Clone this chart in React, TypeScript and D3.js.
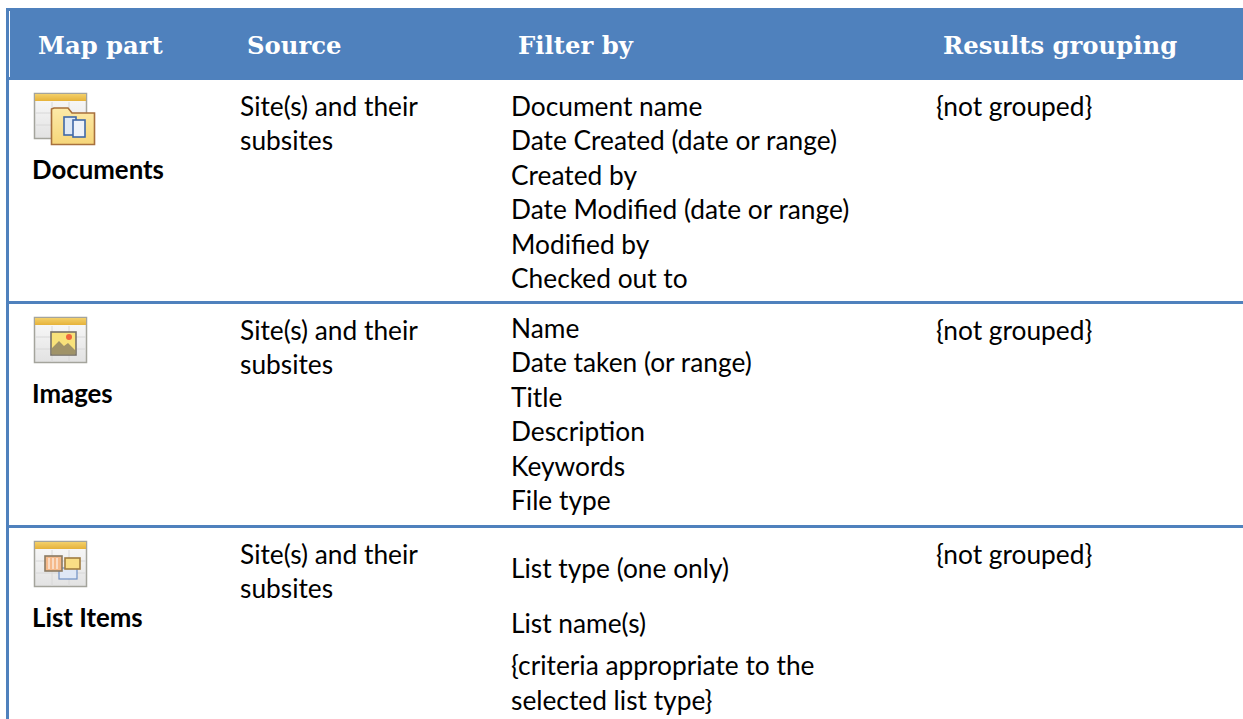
import React, { useEffect, useRef } from "react";
import * as d3 from "d3";

const headers = ["Map part", "Source", "Filter by", "Results grouping"];
const headerX = [38, 247, 518, 943];
const parts = ["Documents", "Images", "List Items"];
const sources = [["Site(s) and their", "subsites"], ["Site(s) and their", "subsites"], ["Site(s) and their", "subsites"]];
const documentFilters = ["Document name", "Date Created (date or range)", "Created by", "Date Modified (date or range)", "Modified by", "Checked out to"];
const imageFilters = ["Name", "Date taken (or range)", "Title", "Description", "Keywords", "File type"];
const listFilters = ["List type (one only)", "List name(s)", "{criteria appropriate to the", "selected list type}"];
const grouping = "{not grouped}";

const rowTops = [80, 304, 528];
const listFilterY = [569, 624, 666, 701];

const BLUE = "#4f81bd";
const BODY = "Lato, 'Open Sans', sans-serif";
const HEAD = "'DejaVu Serif', 'Liberation Serif', serif";

const App = () => {
  const ref = useRef<SVGSVGElement>(null);

  useEffect(() => {
    const svg = d3.select(ref.current);
    svg.selectAll("*").remove();

    const defs = svg.append("defs");
    const grad = defs.append("linearGradient").attr("id", "sheet").attr("x1", 0).attr("x2", 0).attr("y1", 0).attr("y2", 1);
    grad.append("stop").attr("offset", 0).attr("stop-color", "#fafafa");
    grad.append("stop").attr("offset", 1).attr("stop-color", "#e2e2e2");
    const band = defs.append("linearGradient").attr("id", "band").attr("x1", 0).attr("x2", 0).attr("y1", 0).attr("y2", 1);
    band.append("stop").attr("offset", 0).attr("stop-color", "#f3d06a");
    band.append("stop").attr("offset", 1).attr("stop-color", "#e6b23a");
    const fold = defs.append("linearGradient").attr("id", "fold").attr("x1", 0).attr("x2", 0).attr("y1", 0).attr("y2", 1);
    fold.append("stop").attr("offset", 0).attr("stop-color", "#fdeaa8");
    fold.append("stop").attr("offset", 1).attr("stop-color", "#f6d67a");
    defs.append("filter").attr("id", "soft").append("feGaussianBlur").attr("stdDeviation", 0.45);

    // header band and borders
    svg.append("rect").attr("x", 6).attr("y", 8).attr("width", 1237).attr("height", 72).attr("fill", BLUE);
    svg.append("rect").attr("x", 6).attr("y", 8).attr("width", 3).attr("height", 711).attr("fill", BLUE);
    svg.append("rect").attr("x", 9).attr("y", 11).attr("width", 1).attr("height", 66).attr("fill", "#fff");

    svg.selectAll("text.head").data(headers).enter().append("text")
      .attr("class", "head")
      .attr("x", (_, i) => headerX[i])
      .attr("y", 54)
      .attr("font-family", HEAD)
      .attr("font-weight", 700)
      .attr("font-size", 24.3)
      .attr("fill", "#fff")
      .text((d) => d);

    svg.selectAll("rect.sep").data(rowTops.slice(1)).enter().append("rect")
      .attr("class", "sep")
      .attr("x", 6).attr("y", (d) => d - 3).attr("width", 1237).attr("height", 3)
      .attr("fill", BLUE);

    const body = (x: number, y: number, s: string, bold = false) =>
      svg.append("text")
        .attr("x", x).attr("y", y)
        .attr("font-family", BODY)
        .attr("font-size", bold ? 25.8 : 26.3)
        .attr("font-weight", bold ? 700 : 400)
        .attr("fill", "#000")
        .text(s);

    const lineY = d3.scaleLinear().domain([0, 1]).range([0, 34.4]);

    parts.forEach((p, i) => {
      const top = rowTops[i];
      body(32, top + 99, p, true);
      sources[i].forEach((s, j) => body(240, top + 36 + lineY(j), s));
      body(936, top + 36, grouping);
      drawIcon(i, top + 13);
    });

    documentFilters.forEach((s, j) => body(511, rowTops[0] + 36 + lineY(j), s));
    imageFilters.forEach((s, j) => body(511, rowTops[1] + 34 + lineY(j), s));
    listFilters.forEach((s, j) => body(511, listFilterY[j] + 9, s));

    function drawIcon(kind: number, y: number) {
      const g = svg.append("g").attr("transform", `translate(34,${y})`).attr("filter", "url(#soft)");
      g.append("rect").attr("x", 0.5).attr("y", 0.5).attr("width", 52).attr("height", 45).attr("fill", "url(#sheet)").attr("stroke", "#a4a49c").attr("stroke-width", 1.5);
      g.append("rect").attr("x", 1).attr("y", 1).attr("width", 51).attr("height", 7).attr("fill", "url(#band)");
      [18, 35].forEach((x) => g.append("line").attr("x1", x).attr("x2", x).attr("y1", 9).attr("y2", 45).attr("stroke", "#d8d8d8"));
      [20, 32].forEach((ly) => g.append("line").attr("x1", 1).attr("x2", 52).attr("y1", ly).attr("y2", ly).attr("stroke", "#d8d8d8"));
      if (kind === 0) {
        g.append("path").attr("d", "M17.5 16 L17.5 51.5 L60.5 51.5 L60.5 20 L38 20 L34 15 L20 15 Z").attr("fill", "url(#fold)").attr("stroke", "#a8703c").attr("stroke-width", 1.6);
        g.append("rect").attr("x", 30).attr("y", 24).attr("width", 12).attr("height", 18).attr("fill", "#dfe9f5").attr("stroke", "#3f68a8").attr("stroke-width", 1.6);
        g.append("rect").attr("x", 39).attr("y", 27).attr("width", 12).attr("height", 17).attr("fill", "#eef3fa").attr("stroke", "#3f68a8").attr("stroke-width", 1.6);
      } else if (kind === 1) {
        g.append("rect").attr("x", 17).attr("y", 15).attr("width", 25).attr("height", 23).attr("fill", "#f8e27a").attr("stroke", "#77726a").attr("stroke-width", 1.6);
        g.append("path").attr("d", "M18 37 L18 31 L25 24 L30 29 L34 26 L41 33 L41 37 Z").attr("fill", "#a09368");
        g.append("circle").attr("cx", 35).attr("cy", 20).attr("r", 3).attr("fill", "#f0663c");
      } else {
        g.append("rect").attr("x", 25).attr("y", 27).attr("width", 18).attr("height", 11).attr("fill", "#dfe8f5").attr("stroke", "#6f8fc4").attr("stroke-width", 1.2);
        g.append("rect").attr("x", 11).attr("y", 15).attr("width", 17).attr("height", 15).attr("fill", "#f5b98a").attr("stroke", "#8a7a62").attr("stroke-width", 1.6);
        [15, 19, 23].forEach((x) => g.append("line").attr("x1", x).attr("x2", x).attr("y1", 17).attr("y2", 28).attr("stroke", "#fff").attr("stroke-width", 1));
        g.append("rect").attr("x", 31).attr("y", 17).attr("width", 15).attr("height", 11).attr("fill", "#f9de85").attr("stroke", "#a07c40").attr("stroke-width", 1.6);
      }
    }
  }, []);

  return (
    <svg
      ref={ref}
      width={1243}
      height={719}
      viewBox="0 0 1243 719"
      style={{ position: "absolute", left: 0, top: 0, background: "#fff" }}
    />
  );
};

export default App;
